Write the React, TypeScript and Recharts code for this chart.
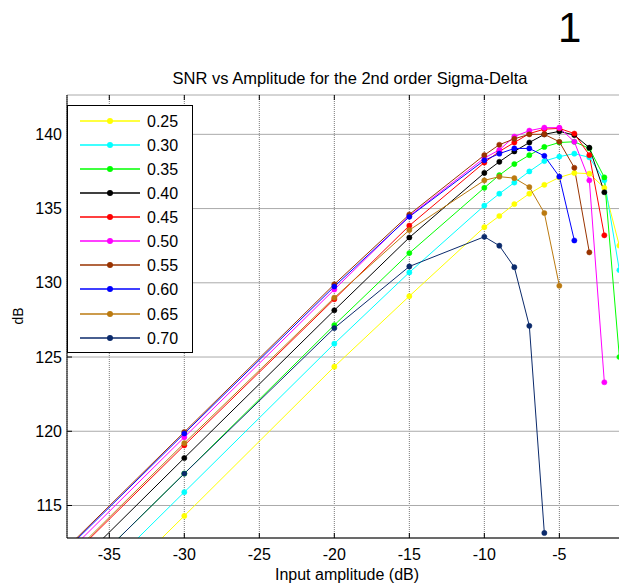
import { LineChart, Line, XAxis, YAxis, CartesianGrid } from 'recharts';

// input amplitude (dB); -40 lies left of the visible window
const amplitudes = [-40, -30, -20, -15, -10, -9, -8, -7, -6, -5, -4, -3, -2, -1];

const snr025 = [104.3, 114.3, 124.35, 129.1, 133.75, 134.5, 135.3, 136.0, 136.6, 137.1, 137.4, 137.35, 136.4, 132.5];
const snr030 = [105.9, 115.9, 125.9, 130.7, 135.2, 136.0, 136.75, 137.5, 138.2, 138.5, 138.7, 138.45, 136.9, 130.85];
const snr035 = [107.2, 117.15, 127.15, 132.0, 136.4, 137.25, 138.0, 138.6, 139.15, 139.45, 139.5, 139.05, 137.1, 125.0];
const snr040 = [108.2, 118.2, 128.15, 133.05, 137.4, 138.15, 138.85, 139.45, 140.0, 140.2, 139.95, 139.1, 136.1];
const snr045 = [109.1, 119.05, 128.9, 133.85, 138.1, 138.85, 139.45, 140.05, 140.35, 140.4, 140.05, 138.6, 133.2];
const snr050 = [109.6, 119.6, 129.55, 134.5, 138.4, 138.95, 139.85, 140.25, 140.45, 140.45, 139.5, 136.9, 123.3];
const snr055 = [110.0, 119.95, 129.9, 134.6, 138.6, 139.3, 139.7, 140.0, 140.0, 139.5, 137.75, 132.05];
const snr060 = [109.9, 119.85, 129.75, 134.45, 138.25, 138.7, 139.05, 139.05, 138.55, 137.15, 132.85];
const snr065 = [109.2, 119.2, 129.0, 133.55, 136.9, 137.15, 137.05, 136.45, 134.7, 129.8];
const snr070 = [107.2, 117.15, 126.95, 131.1, 133.1, 132.5, 131.05, 127.1, 113.15];

const xTicks = [-35, -30, -25, -20, -15, -10, -5];
const yTicks = [115, 120, 125, 130, 135, 140];

const SERIES = [
    { key: 's025', label: '0.25', color: '#ffff00', values: snr025 },
    { key: 's030', label: '0.30', color: '#00ffff', values: snr030 },
    { key: 's035', label: '0.35', color: '#00ff00', values: snr035 },
    { key: 's040', label: '0.40', color: '#000000', values: snr040 },
    { key: 's045', label: '0.45', color: '#ff0000', values: snr045 },
    { key: 's050', label: '0.50', color: '#ff00ff', values: snr050 },
    { key: 's055', label: '0.55', color: '#993300', values: snr055 },
    { key: 's060', label: '0.60', color: '#0000ff', values: snr060 },
    { key: 's065', label: '0.65', color: '#bb7a10', values: snr065 },
    { key: 's070', label: '0.70', color: '#0b2a6b', values: snr070 },
];

const rows = amplitudes.map((x, i) => {
    const row: Record<string, number | undefined> = { x };
    for (const s of SERIES) row[s.key] = s.values[i];
    return row;
});

const FONT = '"Liberation Sans", Arial, sans-serif';
const PLOT_TOP = 95;
const PLOT_LEFT = 67;
const PLOT_BOTTOM = 538;

function XTick({ x, y, payload }: any) {
    return (
        <g>
            <line x1={x} x2={x} y1={PLOT_BOTTOM} y2={PLOT_BOTTOM - 5} stroke="#000" />
            <line x1={x} x2={x} y1={PLOT_TOP} y2={PLOT_TOP + 5} stroke="#000" />
            <text x={x} y={y} dy="0.71em" textAnchor="middle" fontSize={16} fontFamily={FONT} fill="#000">
                {payload.value}
            </text>
        </g>
    );
}

function YTick({ x, y, payload }: any) {
    return (
        <g>
            <line x1={PLOT_LEFT} x2={PLOT_LEFT + 5} y1={y} y2={y} stroke="#000" />
            <text x={x} y={y} dy="0.355em" textAnchor="end" fontSize={16} fontFamily={FONT} fill="#000">
                {payload.value}
            </text>
        </g>
    );
}

function LegendBox() {
    return (
        <div style={{
            position: 'absolute', left: PLOT_LEFT, top: 105, width: 126, height: 248,
            background: '#fff', border: '1px solid #000', boxSizing: 'border-box',
        }}>
            {SERIES.map((s, i) => (
                <div key={s.key} style={{ position: 'absolute', left: 0, top: 3 + i * 24.07, height: 24, width: 124 }}>
                    <svg width={72} height={24} style={{ position: 'absolute', left: 0, top: 0 }}>
                        <line x1={12} x2={72} y1={12} y2={12} stroke={s.color} strokeWidth={1.3} />
                        <circle cx={42} cy={12} r={3} fill={s.color} />
                    </svg>
                    <span style={{
                        position: 'absolute', left: 79, top: 4, fontSize: 16, lineHeight: '18px',
                        fontFamily: FONT, color: '#000',
                    }}>{s.label}</span>
                </div>
            ))}
        </div>
    );
}

export default function App() {
    return (
        <div style={{ position: 'relative', width: 627, height: 585, margin: '-8px 0 0 -8px', background: '#fff', overflow: 'hidden' }}>
            <div style={{ position: 'absolute', left: 558, top: 4, fontSize: 42, lineHeight: '48px', fontFamily: FONT }}>1</div>
            <div style={{
                position: 'absolute', left: 100, width: 500, top: 69, textAlign: 'center',
                fontSize: 16.5, lineHeight: '18px', fontFamily: FONT,
            }}>
                SNR vs Amplitude for the 2nd order Sigma-Delta
            </div>
            <LineChart width={627} height={585} data={rows} margin={{ top: PLOT_TOP, right: 0, bottom: 0, left: 0 }}>
                <CartesianGrid horizontal={false} stroke="#777" strokeDasharray="1 1" />
                <CartesianGrid vertical={false} stroke="#aaa" />
                <XAxis
                    dataKey="x"
                    type="number"
                    domain={[-37.82, -0.49]}
                    ticks={xTicks}
                    allowDataOverflow
                    height={47}
                    tickSize={0}
                    tickMargin={11}
                    tick={<XTick />}
                    axisLine={{ stroke: '#000' }}
                />
                <YAxis
                    type="number"
                    domain={[112.81, 142.65]}
                    ticks={yTicks}
                    allowDataOverflow
                    width={PLOT_LEFT}
                    tickSize={0}
                    tickMargin={5}
                    tick={<YTick />}
                    axisLine={{ stroke: '#000' }}
                />
                {SERIES.map((s) => (
                    <Line
                        key={s.key}
                        type="linear"
                        dataKey={s.key}
                        stroke={s.color}
                        strokeWidth={1}
                        dot={{ r: 2.6, fill: s.color, stroke: s.color, strokeWidth: 0.5 }}
                        activeDot={false}
                        isAnimationActive={false}
                    />
                ))}
            </LineChart>
            <LegendBox />
            <div style={{
                position: 'absolute', left: 197, width: 300, top: 566, textAlign: 'center',
                fontSize: 16, lineHeight: '18px', fontFamily: FONT,
            }}>
                Input amplitude (dB)
            </div>
            <div style={{
                position: 'absolute', left: 18, top: 316, transform: 'translate(-50%, -50%) rotate(-90deg)',
                fontSize: 14, lineHeight: '16px', fontFamily: FONT,
            }}>
                dB
            </div>
        </div>
    );
}
